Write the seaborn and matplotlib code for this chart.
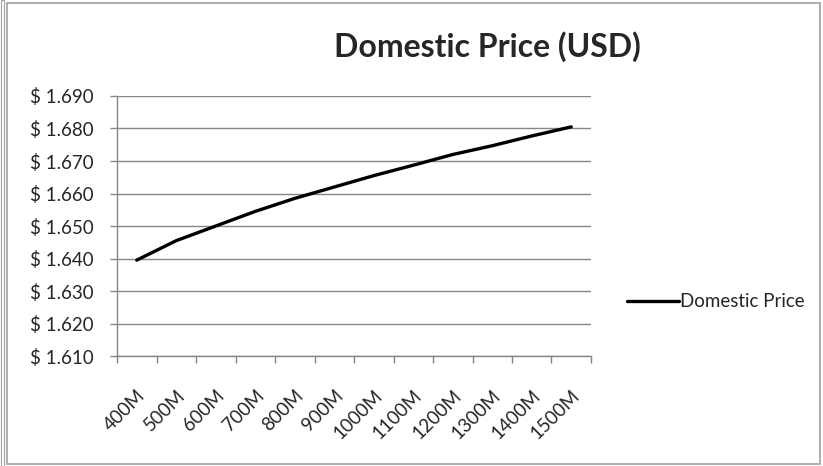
import matplotlib.pyplot as plt
import matplotlib.ticker as mticker
import numpy as np
import pandas as pd
import seaborn as sns
from matplotlib.patches import Rectangle

volume = ["400M", "500M", "600M", "700M", "800M", "900M",
          "1000M", "1100M", "1200M", "1300M", "1400M", "1500M"]
price = [1.6395, 1.6455, 1.6500, 1.6545, 1.6585, 1.6620,
         1.6655, 1.6687, 1.6720, 1.6747, 1.6777, 1.6805]

df = pd.DataFrame({"volume": volume, "price": price})

sns.set_style("white")
plt.rcParams["font.family"] = ["Lato", "DejaVu Sans"]

grey = "#868686"
fs = 13.5
fig = plt.figure(figsize=(8.23, 4.66), dpi=100)
# outer chart frame
fig.patches.append(Rectangle((0.008, 0.004), 0.988, 0.99, transform=fig.transFigure,
                             fill=False, edgecolor="#a0a0a0", linewidth=1.2))
fig.patches.append(Rectangle((0.0015, 0.0), 0.003, 1.0, transform=fig.transFigure,
                             fill=False, edgecolor="#a0a0a0", linewidth=0.8))

ax = fig.add_axes([0.1422, 0.236, 0.5759, 0.558])
sns.lineplot(data=df, x="volume", y="price", color="black", linewidth=2.4,
             label="Domestic Price", ax=ax, sort=False)

ax.set_ylim(1.610, 1.690)
ax.set_xlim(-0.5, len(volume) - 0.5)
ax.yaxis.set_major_locator(mticker.MultipleLocator(0.010))
ax.yaxis.set_major_formatter(mticker.FuncFormatter(lambda v, p: f"$ {v:.3f}"))
ax.grid(axis="y", color=grey, linewidth=1.0)
ax.set_axisbelow(True)

ax.set_xticks(range(len(volume)))
ax.set_xticklabels(volume, rotation=45, ha="right", rotation_mode="anchor", fontsize=fs)
ax.set_xticks(np.arange(-0.5, len(volume), 1), minor=True)
ax.tick_params(axis="x", which="major", length=0, pad=22)
ax.tick_params(axis="x", which="minor", length=5, color=grey, width=1, direction="out", bottom=True)
ax.tick_params(axis="y", length=5, color=grey, width=1, direction="out", left=True, labelsize=fs, pad=12)

for s in ["top", "right"]:
    ax.spines[s].set_visible(False)
for s in ["left", "bottom"]:
    ax.spines[s].set_color(grey)
    ax.spines[s].set_linewidth(1.0)

ax.set_xlabel("")
ax.set_ylabel("")
fig.text(0.592, 0.899, "Domestic Price (USD)", ha="center", va="center",
         fontsize=23, fontweight="bold")

ax.legend(loc="center left", bbox_to_anchor=(1.06, 0.208), frameon=False,
          handlelength=2.8, handletextpad=0.05, fontsize=fs, borderaxespad=0)

plt.savefig("out.png", dpi=100)
plt.close()
